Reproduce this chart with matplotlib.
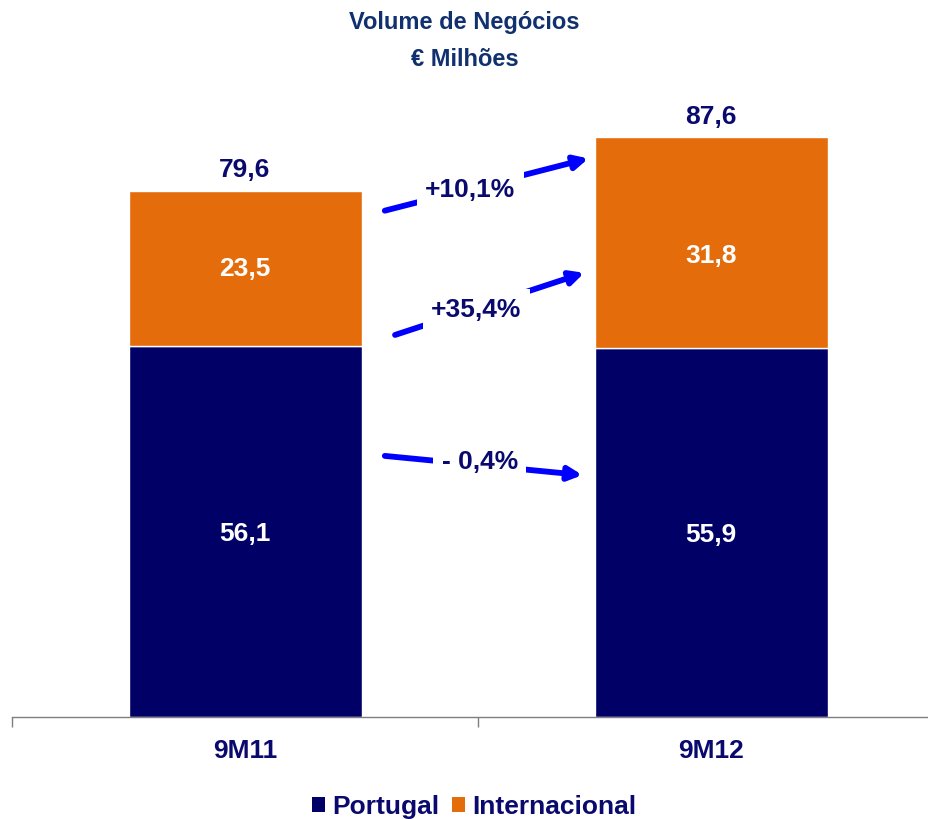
import matplotlib
matplotlib.use("Agg")
import matplotlib.pyplot as plt
from matplotlib.patches import Patch

plt.rcParams['font.family'] = ['Liberation Sans', 'DejaVu Sans']

categories = ["9M11", "9M12"]
portugal = [56.1, 55.9]
internacional = [23.5, 31.8]
totals = [79.6, 87.6]
growth_labels = ["+10,1%", "+35,4%", "- 0,4%"]

NAVY = "#000066"
ORANGE = "#E46C0A"
TEXT = "#0A0A6E"
TITLE = "#10306E"
ARROW = "#0000FF"

fig = plt.figure(figsize=(9.29, 8.19), dpi=100)
ax = fig.add_axes([12/929, 102/819, 932/929, 661/819])

x = list(range(len(categories)))
ax.bar(x, portugal, width=0.5, color=NAVY, edgecolor="white", linewidth=1)
ax.bar(x, internacional, width=0.5, bottom=portugal, color=ORANGE, edgecolor="white", linewidth=1)

def fmt(v):
    return f"{v:.1f}".replace(".", ",")

for i in x:
    ax.text(i, portugal[i] / 2 - 0.4, fmt(portugal[i]), ha="center", va="center",
            color="white", fontsize=19, fontweight="bold")
    ax.text(i, portugal[i] + internacional[i] / 2 - 2.0 * i, fmt(internacional[i]), ha="center", va="center",
            color="white", fontsize=19, fontweight="bold")
    ax.text(i, totals[i] + 1.4, fmt(totals[i]), ha="center", va="bottom",
            color=TEXT, fontsize=19, fontweight="bold")

# growth arrows (start, end, label position) in data coords
arrows = [
    ((0.300, 76.6), (0.737, 84.5), (0.483, 79.8)),
    ((0.322, 57.8), (0.728, 67.2), (0.496, 61.6)),
    ((0.300, 39.5), (0.724, 36.6), (0.504, 38.6)),
]
for (s, e, t), lab in zip(arrows, growth_labels):
    ax.annotate("", xy=e, xytext=s,
                arrowprops=dict(arrowstyle="-|>,head_length=0.8,head_width=0.4",
                                color=ARROW, lw=4.2, shrinkA=0, shrinkB=0))
    ax.text(t[0], t[1], lab, ha="center", va="center", color=TEXT, fontsize=19,
            fontweight="bold", bbox=dict(facecolor="white", edgecolor="none", pad=6))

ax.set_xlim(-0.5, 1.5)
ax.set_ylim(0, 100)
ax.set_yticks([])
for sp in ["top", "right", "left"]:
    ax.spines[sp].set_visible(False)
ax.spines["bottom"].set_color("#7F7F7F")
ax.spines["bottom"].set_linewidth(1)
ax.set_xticks(x)
ax.set_xticklabels(categories, fontsize=19, fontweight="bold", color=TEXT)
ax.tick_params(axis="x", which="major", length=0, pad=16)
ax.set_xticks([-0.5, 0.5, 1.5], minor=True)
ax.tick_params(axis="x", which="minor", length=7, color="#7F7F7F", width=1)

fig.text(0.5, 1 - 23/819, "Volume de Negócios", ha="center", va="center",
         color=TITLE, fontsize=17, fontweight="bold")
fig.text(0.5, 1 - 59/819, "€ Milhões", ha="center", va="center",
         color=TITLE, fontsize=17, fontweight="bold")

handles = [Patch(facecolor=NAVY), Patch(facecolor=ORANGE)]
leg = fig.legend(handles, ["Portugal", "Internacional"], loc="center",
                 bbox_to_anchor=(474/929, 1 - 807/819), ncol=2, frameon=False,
                 prop=dict(size=19, weight="bold"), handlelength=0.5, handleheight=0.5,
                 handletextpad=0.25, columnspacing=0.5)
for t in leg.get_texts():
    t.set_color(TEXT)

fig.savefig("out.png", dpi=100)
